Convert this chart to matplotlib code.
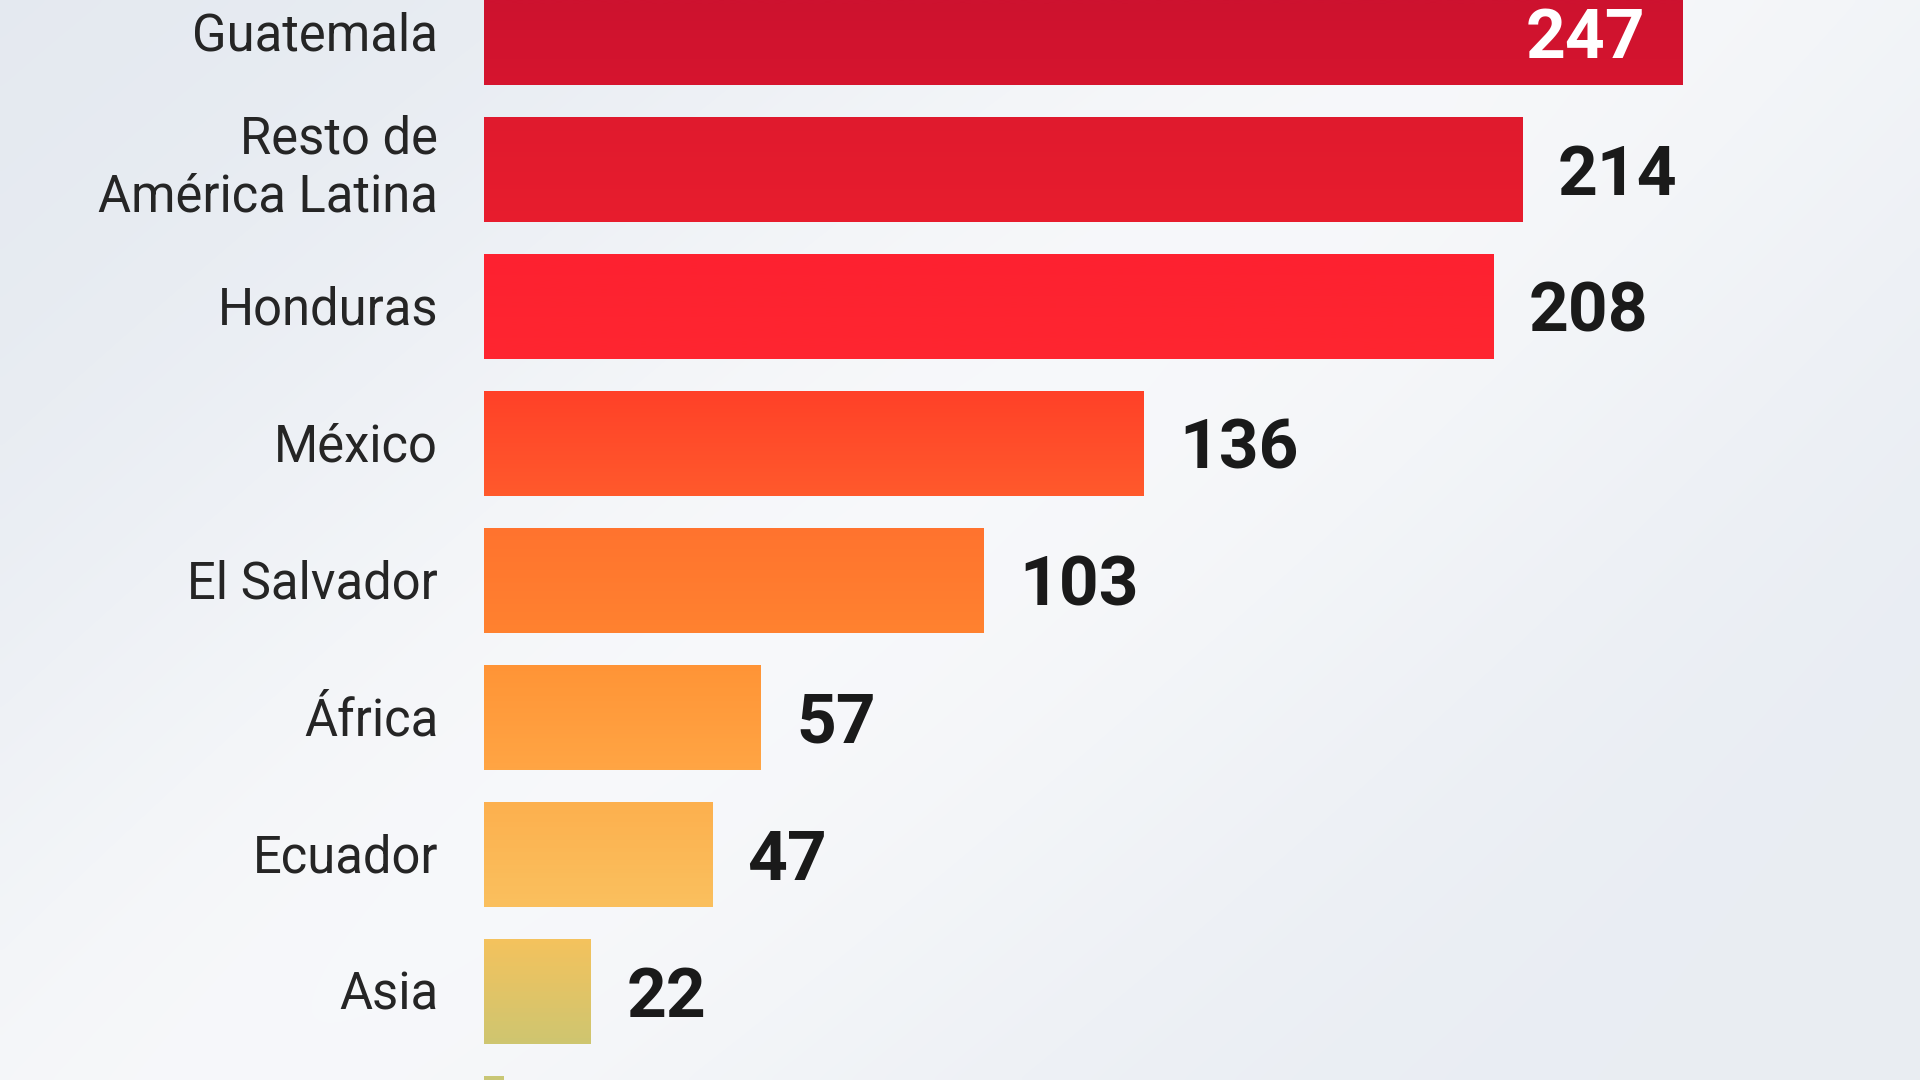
import numpy as np
import matplotlib
matplotlib.use("Agg")
import matplotlib.pyplot as plt
from matplotlib.colors import LinearSegmentedColormap, Normalize, to_rgb

# ---- data ----
categories = ["Guatemala", "Resto de\nAmérica Latina", "Honduras", "México",
              "El Salvador", "África", "Ecuador", "Asia", ""]
values = [247, 214, 208, 136, 103, 57, 47, 22, 4]
value_labels = ["247", "214", "208", "136", "103", "57", "47", "22", ""]

# ---- figure ----
fig = plt.figure(figsize=(19.2, 10.8), dpi=100)

# soft background
bg = fig.add_axes([0, 0, 1, 1], zorder=0)
bg.axis("off")
H, W = 216, 384
yy, xx = np.mgrid[0:1:H * 1j, 0:1:W * 1j]
base = np.array(to_rgb("#E4E9F0"))
light = np.array(to_rgb("#F8F9FB"))
band = np.exp(-((xx * 0.9 + yy * 0.6 - 0.70) / 0.40) ** 2)
t = np.clip(0.9 * band + 0.25 * yy * xx, 0, 1)
img = base[None, None, :] * (1 - t[..., None]) + light[None, None, :] * t[..., None]
bg.imshow(img, extent=[0, 1, 0, 1], aspect="auto", origin="upper", interpolation="bicubic")
bg.set_xlim(0, 1)
bg.set_ylim(0, 1)

# main axes
left = 484 / 1920
ax = fig.add_axes([left, 0, 1 - left, 1], zorder=1)
ax.patch.set_alpha(0)
YTOP, YBOT = -0.237, 7.646
XMAX = 296

y = np.arange(len(values))
bh = 0.766
bars = ax.barh(y, values, height=bh, color="none", edgecolor="none")

# vertical colour gradient shared across all bars
stops = [
    (-0.237, "#CD122F"), (0.383, "#D6152E"),
    (0.617, "#E01A2E"), (1.383, "#E81D2D"),
    (1.617, "#FD2130"), (2.383, "#FF2630"),
    (2.617, "#FF4128"), (3.383, "#FF5A2C"),
    (3.617, "#FF732E"), (4.383, "#FF8230"),
    (4.617, "#FF9436"), (5.383, "#FFA544"),
    (5.617, "#FDB04E"), (6.383, "#FAC05E"),
    (6.617, "#F5C25D"), (7.383, "#CFC670"),
    (7.646, "#C9C776"),
]
pos = [(s - YTOP) / (YBOT - YTOP) for s, _ in stops]
cmap = LinearSegmentedColormap.from_list("grad", list(zip(pos, [c for _, c in stops])))
norm = Normalize(YTOP, YBOT)
grad = np.linspace(YTOP, YBOT, 1024).reshape(-1, 1)
for bar in bars:
    im = ax.imshow(grad, cmap=cmap, norm=norm, extent=(0, XMAX, YBOT, YTOP),
                   origin="upper", aspect="auto", zorder=2, interpolation="bilinear")
    im.set_clip_path(bar)

ax.set_xlim(0, XMAX)
ax.set_ylim(YBOT, YTOP)
ax.axis("off")

# category labels
for i, cat in enumerate(categories):
    if not cat:
        continue
    nlines = cat.count("\n") + 1
    dy = -12.8 if nlines == 1 else -30.6
    ax.annotate(cat, xy=(0, i), xycoords="data", xytext=(-33, dy),
                textcoords="offset points", ha="right", va="baseline",
                fontsize=36.5, family="Roboto", color="#252525",
                linespacing=1.22, annotation_clip=False)

# value labels
for i, (v, lab) in enumerate(zip(values, value_labels)):
    if not lab:
        continue
    if i == 0:
        ax.annotate(lab, xy=(v, i), xytext=(-27, -18.3), textcoords="offset points",
                    ha="right", va="baseline", fontsize=50, fontweight="bold",
                    family="Roboto", color="white", zorder=3)
    else:
        ax.annotate(lab, xy=(v, i), xytext=(25.5, -18.3), textcoords="offset points",
                    ha="left", va="baseline", fontsize=50, fontweight="bold",
                    family="Roboto", color="#1A1A1A", zorder=3)

fig.savefig("out.png", dpi=100)
